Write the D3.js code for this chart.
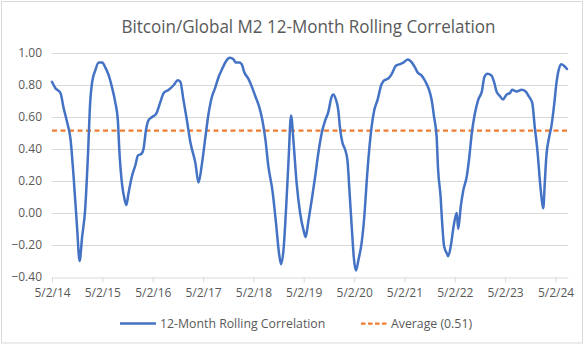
<!DOCTYPE html>
<html>
<head>
<meta charset="utf-8">
<script src="https://cdn.jsdelivr.net/npm/d3@7"></script>
<style>
  html, body { margin: 0; padding: 0; background: #fff; }
  svg { display: block; }
  text { font-family: "Open Sans", "Liberation Sans", sans-serif; fill: #595959; }
</style>
</head>
<body>
<svg id="chart" width="586" height="346"></svg>
<script>
// ---- Data (decimal years) ----
const years = [
  2014.33,2014.40,2014.50,2014.56,2014.63,2014.70,2014.76,2014.83,2014.88,2014.93,2014.99,
  2015.05,2015.09,2015.13,2015.19,2015.26,2015.33,2015.39,2015.46,2015.52,2015.59,2015.64,
  2015.67,2015.72,2015.77,2015.81,2015.85,2015.92,2015.99,2016.04,2016.11,2016.15,2016.20,
  2016.25,2016.32,2016.40,2016.48,2016.55,2016.65,2016.75,2016.83,2016.88,2016.94,2017.01,
  2017.08,2017.18,2017.24,2017.31,2017.38,2017.44,2017.51,2017.57,2017.64,2017.71,2017.79,
  2017.86,2017.94,2017.98,2018.05,2018.10,2018.15,2018.23,2018.30,2018.37,2018.45,2018.51,
  2018.57,2018.63,2018.71,2018.78,2018.84,2018.88,2018.93,2018.98,2019.03,2019.08,2019.13,
  2019.19,2019.26,2019.33,2019.37,2019.42,2019.49,2019.56,2019.62,2019.69,2019.76,2019.82,
  2019.88,2019.92,2019.97,2020.02,2020.05,2020.10,2020.15,2020.20,2020.24,2020.29,2020.33,
  2020.37,2020.42,2020.48,2020.54,2020.58,2020.63,2020.68,2020.73,2020.80,2020.87,2020.93,
  2021.01,2021.08,2021.16,2021.24,2021.31,2021.40,2021.48,2021.54,2021.59,2021.67,2021.75,
  2021.82,2021.87,2021.92,2021.97,2022.00,2022.05,2022.08,2022.12,2022.17,2022.20,2022.26,
  2022.30,2022.34,2022.37,2022.40,2022.45,2022.50,2022.57,2022.62,2022.67,2022.73,2022.80,
  2022.87,2022.92,2022.98,2023.06,2023.12,2023.16,2023.23,2023.29,2023.36,2023.43,2023.47,
  2023.56,2023.66,2023.74,2023.80,2023.87,2023.92,2023.98,2024.02,2024.07,2024.09,2024.12,
  2024.15,2024.21,2024.25,2024.31,2024.35,2024.40,2024.45,2024.50,2024.56
];
const correlation = [
  0.82,0.78,0.75,0.66,0.57,0.46,0.23,-0.09,-0.30,-0.15,0.02,
  0.39,0.69,0.82,0.89,0.94,0.94,0.91,0.86,0.79,0.69,0.58,
  0.39,0.19,0.09,0.05,0.12,0.23,0.30,0.36,0.37,0.40,0.52,
  0.58,0.60,0.62,0.69,0.75,0.77,0.80,0.83,0.82,0.71,0.58,
  0.44,0.31,0.19,0.31,0.48,0.62,0.73,0.78,0.85,0.90,0.95,
  0.97,0.96,0.94,0.94,0.93,0.88,0.84,0.79,0.73,0.66,0.58,
  0.46,0.29,0.14,-0.06,-0.25,-0.32,-0.23,0.02,0.33,0.61,0.44,
  0.19,0.00,-0.11,-0.15,-0.06,0.08,0.23,0.37,0.50,0.58,0.63,
  0.72,0.74,0.71,0.64,0.54,0.44,0.40,0.33,0.14,-0.11,-0.29,
  -0.36,-0.29,-0.19,0.00,0.19,0.39,0.54,0.64,0.71,0.80,0.83,
  0.84,0.87,0.92,0.93,0.94,0.96,0.94,0.91,0.88,0.86,0.82,
  0.77,0.71,0.60,0.48,0.27,0.10,-0.06,-0.21,-0.25,-0.27,-0.19,
  -0.10,-0.03,0.00,-0.10,0.04,0.14,0.23,0.35,0.50,0.62,0.71,
  0.76,0.85,0.87,0.86,0.81,0.76,0.73,0.71,0.74,0.75,0.77,
  0.76,0.77,0.76,0.73,0.69,0.54,0.37,0.21,0.06,0.03,0.19,
  0.35,0.48,0.54,0.69,0.81,0.90,0.93,0.92,0.90
];
const averageValue = 0.515;
const yTicks = [-0.40,-0.20,0.00,0.20,0.40,0.60,0.80,1.00];
const xTickYears = [2014,2015,2016,2017,2018,2019,2020,2021,2022,2023,2024];
const xTickLabels = ["5/2/14","5/2/15","5/2/16","5/2/17","5/2/18","5/2/19","5/2/20","5/2/21","5/2/22","5/2/23","5/2/24"];
const titleText = "Bitcoin/Global M2 12-Month Rolling Correlation";
const legendLabels = ["12-Month Rolling Correlation", "Average (0.51)"];

// ---- Helpers ----
function decToDate(d) {
  const y = Math.floor(d);
  const start = new Date(y, 0, 1).getTime();
  const end = new Date(y + 1, 0, 1).getTime();
  return new Date(start + (d - y) * (end - start));
}
const series = years.map((y, i) => ({ date: decToDate(y), value: correlation[i] }));

// ---- Layout ----
const W = 586, H = 346;
const margin = { left: 52, right: 18, top: 53, bottom: 69 };
const svg = d3.select("#chart");

// chart border
svg.append("rect")
  .attr("x", 1.5).attr("y", 1.5)
  .attr("width", 581).attr("height", 341.5)
  .attr("fill", "none").attr("stroke", "#d9d9d9").attr("stroke-width", 1);

const x = d3.scaleTime()
  .domain([new Date(2014, 4, 2), decToDate(2024.58)])
  .range([margin.left, W - margin.right]);
const y = d3.scaleLinear()
  .domain([-0.4, 1.0])
  .range([H - margin.bottom, margin.top]);

// title
svg.append("text")
  .attr("x", 121.5).attr("y", 33)
  .attr("font-size", 17.5)
  .attr("textLength", 374).attr("lengthAdjust", "spacingAndGlyphs")
  .text(titleText);

// gridlines
svg.append("g")
  .selectAll("line")
  .data(yTicks.filter(v => v > -0.4))
  .join("line")
  .attr("x1", margin.left).attr("x2", W - margin.right)
  .attr("y1", d => Math.round(y(d)) + 0.5).attr("y2", d => Math.round(y(d)) + 0.5)
  .attr("stroke", "#d9d9d9").attr("stroke-width", 1);

// y-axis labels
const yAxis = d3.axisLeft(y).tickValues(yTicks).tickFormat(d3.format(".2f")).tickSize(0).tickPadding(10);
const gy = svg.append("g").attr("transform", `translate(${margin.left},0)`).call(yAxis);
gy.select(".domain").remove();
gy.selectAll("text").attr("font-size", 12).attr("fill", "#595959")
  .style("font-family", '"Open Sans", "Liberation Sans", sans-serif');

// x axis
const xAxis = d3.axisBottom(x)
  .tickValues(xTickYears.map(yr => new Date(yr, 4, 2)))
  .tickFormat((d, i) => xTickLabels[i])
  .tickSize(5).tickSizeOuter(0).tickPadding(6);
const gx = svg.append("g").attr("transform", `translate(0,${Math.round(y(-0.4)) + 0.5})`).call(xAxis);
gx.select(".domain").attr("stroke", "#d9d9d9");
gx.selectAll(".tick line").attr("stroke", "#d9d9d9");
gx.selectAll("text").attr("font-size", 12).attr("fill", "#595959")
  .style("font-family", '"Open Sans", "Liberation Sans", sans-serif');

// average line
svg.append("line")
  .attr("x1", margin.left).attr("x2", W - margin.right)
  .attr("y1", y(averageValue)).attr("y2", y(averageValue))
  .attr("stroke", "#ED7D31").attr("stroke-width", 2.25)
  .attr("stroke-dasharray", "5,3.5");

// correlation line
const line = d3.line()
  .x(d => x(d.date)).y(d => y(d.value))
  .curve(d3.curveMonotoneX);
svg.append("path")
  .datum(series)
  .attr("d", line)
  .attr("fill", "none")
  .attr("stroke", "#4472C4").attr("stroke-width", 2.5)
  .attr("stroke-linejoin", "round").attr("stroke-linecap", "round");

// legend
const ly = 323.5;
const leg = svg.append("g");
leg.append("line").attr("x1", 120).attr("x2", 156).attr("y1", ly).attr("y2", ly)
  .attr("stroke", "#4472C4").attr("stroke-width", 2.5);
leg.append("text").attr("x", 160).attr("y", ly + 4.5).attr("font-size", 12.3).text(legendLabels[0]);
leg.append("line").attr("x1", 361).attr("x2", 387).attr("y1", ly).attr("y2", ly)
  .attr("stroke", "#ED7D31").attr("stroke-width", 2.25).attr("stroke-dasharray", "4.5,2.5");
leg.append("text").attr("x", 391).attr("y", ly + 4.5).attr("font-size", 12.3).text(legendLabels[1]);
</script>
</body>
</html>
